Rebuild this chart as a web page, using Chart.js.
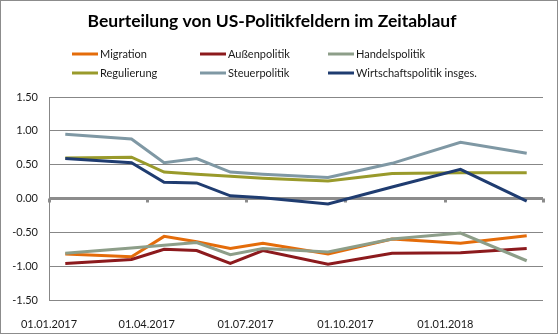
<!DOCTYPE html>
<html>
<head>
<meta charset="utf-8">
<script src="https://cdn.jsdelivr.net/npm/chart.js@4.4.1/dist/chart.umd.min.js"></script>
<style>
  body { margin: 0; background: #fff; }
  #box { width: 558px; height: 334px; box-sizing: border-box; border: 1px solid #8c8c8c; }
  canvas { display: block; }
</style>
</head>
<body>
<div id="box"><canvas id="myChart" width="556" height="332"></canvas></div>
<script>
// survey dates (x) and values per policy field
var dates = ['2017-01-16', '2017-03-18', '2017-04-17', '2017-05-17', '2017-06-17',
             '2017-07-17', '2017-09-15', '2017-11-13', '2018-01-15', '2018-03-17'];
var migration     = [-0.82, -0.86, -0.56, -0.64, -0.74, -0.66, -0.82, -0.60, -0.66, -0.55];
var aussen        = [-0.96, -0.90, -0.75, -0.77, -0.96, -0.77, -0.97, -0.81, -0.80, -0.74];
var handel        = [-0.81, -0.73, -0.69, -0.65, -0.83, -0.74, -0.79, -0.60, -0.51, -0.92];
var regulierung   = [0.60, 0.61, 0.39, 0.36, 0.33, 0.30, 0.26, 0.37, 0.38, 0.38];
var steuer        = [0.95, 0.88, 0.53, 0.59, 0.39, 0.36, 0.31, 0.52, 0.83, 0.67];
var wirtschaft    = [0.59, 0.53, 0.24, 0.23, 0.04, 0.01, -0.08, 0.17, 0.43, -0.04];

var seriesNames = ['Migration', 'Außenpolitik', 'Handelspolitik', 'Regulierung', 'Steuerpolitik', 'Wirtschaftspolitik insges.'];
var seriesValues = [migration, aussen, handel, regulierung, steuer, wirtschaft];
var seriesColors = ['#E46C0A', '#8C1A1D', '#8D9E89', '#999A2B', '#7F98A4', '#1F3C70'];

var xTickDates = ['2017-01-01', '2017-04-01', '2017-07-01', '2017-10-01', '2018-01-01', '2018-04-01'];
var xMin = '2017-01-01';
var xMax = '2018-04-01';
var yTicks = [-1.5, -1.0, -0.5, 0, 0.5, 1.0, 1.5];

// days since start
function day(s) {
    return (Date.parse(s) - Date.parse(xMin)) / 86400000;
}
function fmtDate(d) {
    var t = new Date(Date.parse(xMin) + d * 86400000);
    var dd = ('0' + t.getUTCDate()).slice(-2);
    var mm = ('0' + (t.getUTCMonth() + 1)).slice(-2);
    return dd + '.' + mm + '.' + t.getUTCFullYear();
}

var datasets = seriesNames.map(function (name, i) {
    return {
        label: name,
        data: seriesValues[i].map(function (v, j) { return { x: day(dates[j]), y: v }; }),
        borderColor: seriesColors[i],
        backgroundColor: seriesColors[i],
        borderWidth: 3,
        pointRadius: 0,
        tension: 0,
        order: seriesNames.length - i
    };
});

// legend in fixed columns like the original, plus tick marks on the zero line
var legendPlugin = {
    id: 'colLegend',
    beforeDatasetsDraw: function (chart) {
        var c = chart.ctx;
        var xs = chart.scales.x, y0 = chart.scales.y.getPixelForValue(0);
        c.save();
        c.fillStyle = '#8c8c8c';
        xTickDates.forEach(function (s) {
            var px = Math.round(xs.getPixelForValue(day(s)));
            c.fillRect(px - 1, y0, 3, 4);
        });
        c.restore();
    },
    afterDraw: function (chart) {
        var c = chart.ctx;
        var cols = [71, 199, 327];
        var rows = [53, 72];
        c.save();
        c.font = '11px Lato';
        c.textBaseline = 'middle';
        chart.data.datasets.forEach(function (ds, i) {
            var x = cols[i % 3], y = rows[Math.floor(i / 3)];
            c.strokeStyle = ds.borderColor;
            c.lineWidth = 3;
            c.beginPath();
            c.moveTo(x, y);
            c.lineTo(x + 26, y);
            c.stroke();
            c.fillStyle = '#1a1a1a';
            c.fillText(ds.label, x + 28, y);
        });
        c.restore();
    }
};

var ctx = document.getElementById('myChart').getContext('2d');
var myChart = new Chart(ctx, {
    type: 'line',
    data: { datasets: datasets },
    plugins: [legendPlugin],
    options: {
        responsive: false,
        animation: false,
        layout: { padding: { top: 10, right: 14, left: 0, bottom: 0 } },
        plugins: {
            legend: { display: false },
            tooltip: { enabled: false },
            title: {
                display: true,
                text: 'Beurteilung von US-Politikfeldern im Zeitablauf',
                color: '#000',
                font: { family: 'Lato', size: 17.5, weight: 'bold', lineHeight: 1.2 },
                padding: { top: 0, bottom: 65 }
            }
        },
        scales: {
            x: {
                type: 'linear',
                min: 0,
                max: day(xMax),
                afterBuildTicks: function (scale) {
                    scale.ticks = xTickDates.slice(0, 5).map(function (s) { return { value: day(s) }; });
                },
                afterFit: function (scale) { scale.height = 33; },
                grid: { display: false },
                border: { display: false },
                ticks: {
                    autoSkip: false,
                    maxRotation: 0,
                    padding: 10,
                    color: '#1a1a1a',
                    font: { family: 'Lato', size: 11 },
                    callback: function (v) { return fmtDate(v); }
                }
            },
            y: {
                min: -1.5,
                max: 1.5,
                afterBuildTicks: function (scale) {
                    scale.ticks = yTicks.map(function (v) { return { value: v }; });
                },
                afterFit: function (scale) { scale.width = 48; },
                grid: {
                    drawTicks: false,
                    color: function (c) { return c.tick && c.tick.value === 0 ? '#8c8c8c' : '#878787'; },
                    lineWidth: function (c) { return c.tick && c.tick.value === 0 ? 3 : 1; }
                },
                border: { display: true, color: '#878787', width: 1 },
                ticks: {
                    padding: 11,
                    color: '#1a1a1a',
                    font: { family: 'Lato', size: 11 },
                    callback: function (v) { return v.toFixed(2); }
                }
            }
        }
    }
});
</script>
</body>
</html>
